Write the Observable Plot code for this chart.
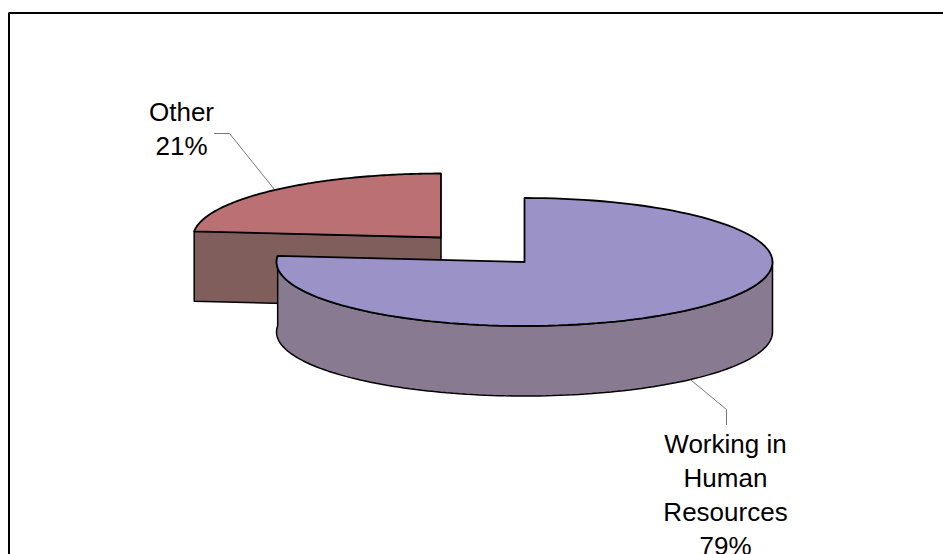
<!DOCTYPE html>
<html>
<head>
<meta charset="utf-8">
<script src="https://cdn.jsdelivr.net/npm/d3@7"></script>
<script src="https://cdn.jsdelivr.net/npm/@observablehq/plot@0.6"></script>
<style>
html,body{margin:0;padding:0;background:#fff;overflow:hidden}
svg{display:block}
</style>
</head>
<body>
<div id="chart"></div>
<script>
// Data
const categories = ["Other", "Working in\nHuman\nResources"];
const shares = [21, 79];

// Layout of the exploded 3D pie (pixel space of the 943x554 canvas)
const W = 943, H = 554;
const rx = 248, ry = 64, depth = 70, foreshorten = 0.38;
const centerOther = [440.5, 237];
const centerMain = [524, 261.5];
const labelAnchors = [[181, 96], [725, 428]];
const leaders = [
  [[214, 133], [229, 133], [274, 189]],
  [[691, 380], [726, 409], [726, 424]]
];
const colors = {
  otherTop: "#bb7174", otherSide: "#7f5e5c",
  mainTop: "#9b92c8", mainSide: "#887a90"
};

// Angle on the ellipse (radians from 12 o'clock) for a share of the whole
const rimAngle = s => {
  const t = s / 100 * 2 * Math.PI;
  return Math.atan2(Math.sin(t), Math.cos(t) * foreshorten);
};
const rim = ([cx, cy], a, dy = 0) => ({x: cx + rx * Math.sin(a), y: cy - ry * Math.cos(a) + dy});
const arc = (c, a0, a1, dy = 0) => {
  const n = 120;
  return d3.range(n + 1).map(i => rim(c, a0 + (a1 - a0) * i / n, dy));
};
const pt = ([x, y], dy = 0) => ({x, y: y + dy});

// "Other" runs counter-clockwise from 12 o'clock
const aOther = rimAngle(shares[0]);
const otherArc = arc(centerOther, -aOther, 0);
const otherTop = [...otherArc, pt(centerOther), otherArc[0]];
const otherSide = [
  otherArc[0], pt(centerOther), pt(centerOther, depth),
  {x: otherArc[0].x, y: otherArc[0].y + depth}, otherArc[0]
];

// "Working in Human Resources" takes the rest of the circle, clockwise
const mainEnd = 2 * Math.PI - aOther;
const mainArc = arc(centerMain, 0, mainEnd);
const mainTop = [pt(centerMain), ...mainArc, pt(centerMain)];
const front = arc(centerMain, Math.PI / 2, mainEnd);
const frontLow = arc(centerMain, Math.PI / 2, mainEnd, depth).reverse();
const mainSide = [...front, ...frontLow, front[0]];

const face = (pts, fill, strokeWidth) => Plot.line(pts, {
  x: "x", y: "y", fill, stroke: "#000", strokeWidth,
  strokeLinejoin: "miter", curve: "linear"
});

const labels = categories.map((c, i) => ({
  text: `${c}\n${shares[i]}%`, x: labelAnchors[i][0], y: labelAnchors[i][1]
}));

const plot = Plot.plot({
  width: W, height: H,
  marginTop: 0, marginRight: 0, marginBottom: 0, marginLeft: 0,
  x: {type: "linear", domain: [0, W], range: [0, W], axis: null},
  y: {type: "linear", domain: [0, H], range: [0, H], axis: null},
  style: {background: "#fff"},
  marks: [
    Plot.line([{x: 8.5, y: H}, {x: 8.5, y: 12.5}, {x: W, y: 12.5}], {x: "x", y: "y", stroke: "#000", strokeWidth: 2, strokeLinejoin: "miter"}),
    ...leaders.map(l => Plot.line(l.map(p => pt(p)), {x: "x", y: "y", stroke: "#777", strokeWidth: 1})),
    face(otherSide, colors.otherSide, 1.5),
    face(otherTop, colors.otherTop, 1.8),
    face(mainSide, colors.mainSide, 1.5),
    face(mainTop, colors.mainTop, 1.8),
    Plot.text(labels, {
      x: "x", y: "y", text: "text", textAnchor: "middle", lineAnchor: "top",
      fontFamily: "Liberation Sans", fontSize: 26, lineHeight: 34 / 26, fill: "#000"
    })
  ]
});
document.getElementById("chart").append(plot);
</script>
</body>
</html>
